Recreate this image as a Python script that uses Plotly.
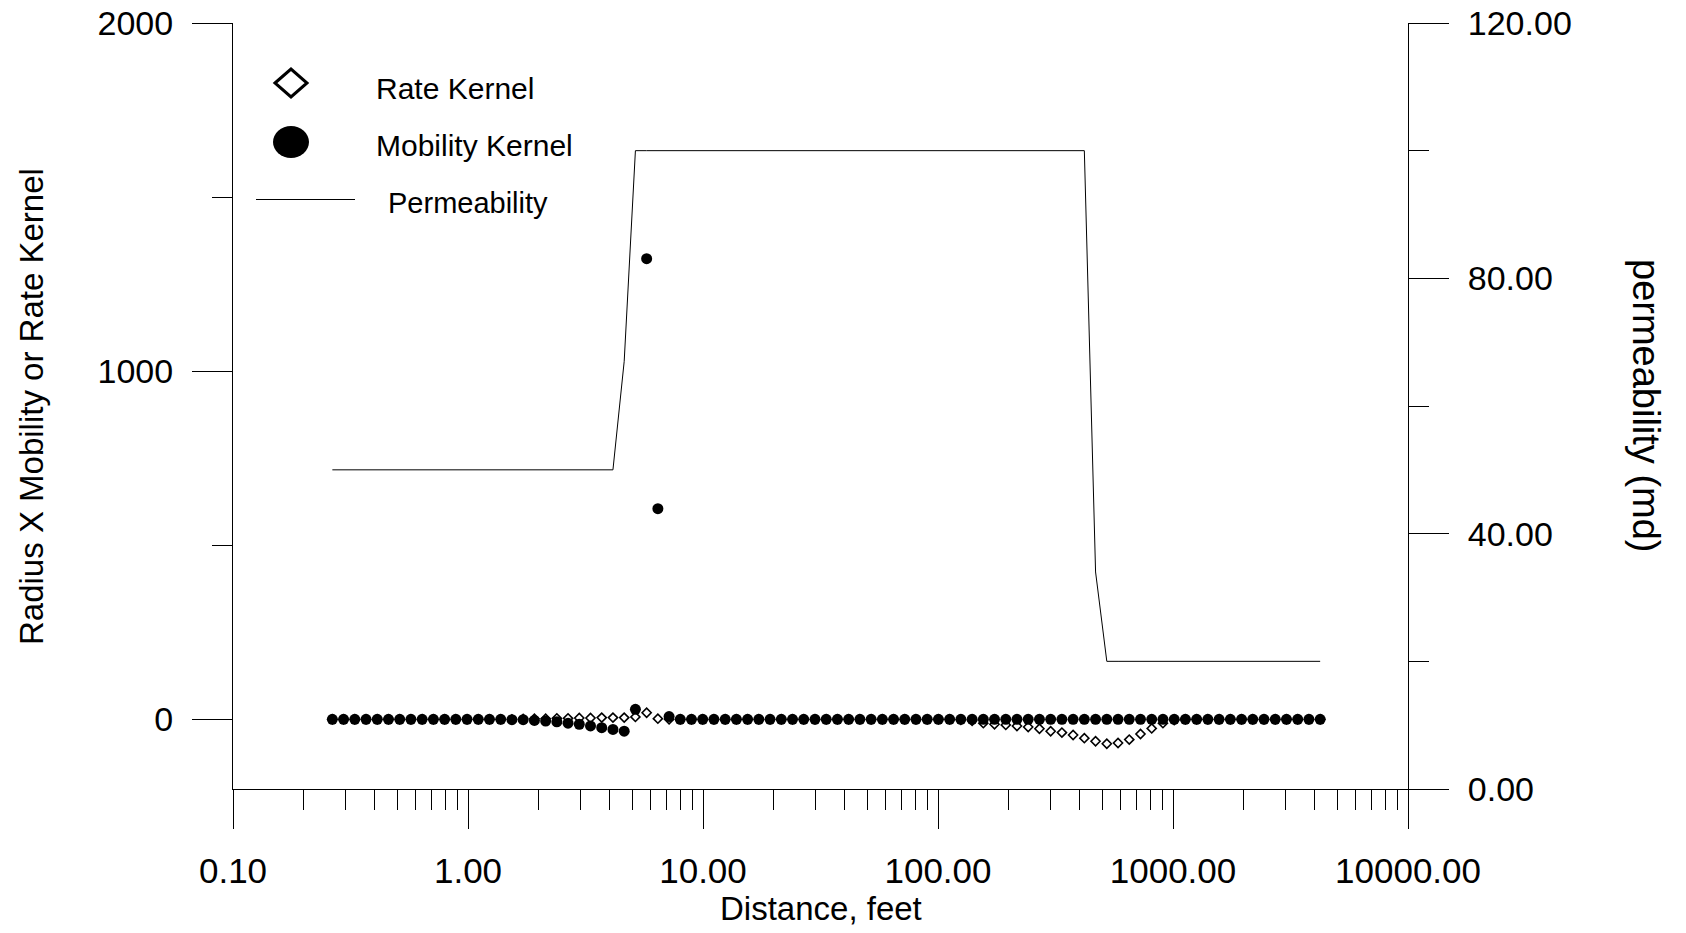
import plotly.graph_objects as go

# ---------------- data ----------------
distance_ft = [
    0.2647, 0.2955, 0.3298, 0.3682, 0.4110, 0.4588, 0.5122, 0.5717, 0.6382, 0.7125,
    0.7953, 0.8874, 0.9906, 1.106, 1.234, 1.378, 1.538, 1.717, 1.917, 2.140,
    2.388, 2.665, 2.975, 3.321, 3.707, 4.138, 4.620, 5.157, 5.757, 6.426,
    7.173, 8.002, 8.932, 9.971, 11.13, 12.43, 13.87, 15.48, 17.28, 19.29,
    21.54, 24.04, 26.83, 29.96, 33.44, 37.33, 41.67, 46.52, 51.93, 57.97,
    64.70, 72.19, 80.58, 89.95, 100.4, 112.1, 125.1, 139.7, 155.9, 174.0,
    194.3, 216.8, 242.0, 270.2, 301.6, 336.7, 375.8, 419.5, 468.3, 522.8,
    583.6, 651.4, 727.2, 811.8, 906.2, 1012, 1129, 1261, 1407, 1571,
    1754, 1958, 2185, 2439, 2723, 3040, 3393, 3788, 4229,
]

rate_kernel = [
    0, 0, 0, 0, 0, 0, 0, 0, 0, 0,
    0, 0, 0, 0, 0, 0, 0, 1, 2, 2,
    3, 3, 4, 4, 5, 5, 5, 7, 19, 2,
    0, 0, 0, 0, 0, 0, 0, 0, 0, 0,
    0, 0, 0, 0, 0, 0, 0, 0, 0, 0,
    0, 0, 0, 0, 0, 0, -1, -4, -11, -14,
    -16, -19, -22, -27, -34, -38, -45, -54, -63, -70,
    -68, -58, -42, -26, -11, -2, 0, 0, 0, 0,
    0, 0, 0, 0, 0, 0, 0, 0, 0,
]

mobility_kernel = [
    0, 0, 0, 0, 0, 0, 0, 0, 0, 0,
    0, 0, 0, 0, 0, 0, -1, -1, -3, -5,
    -7, -11, -14, -19, -24, -29, -34, 29, 1323, 605,
    8, 0, 0, 0, 0, 0, 0, 0, 0, 0,
    0, 0, 0, 0, 0, 0, 0, 0, 0, 0,
    0, 0, 0, 0, 0, 0, 0, 0, 0, 0,
    0, 0, 0, 0, 0, 0, 0, 0, 0, 0,
    0, 0, 0, 0, 0, 0, 0, 0, 0, 0,
    0, 0, 0, 0, 0, 0, 0, 0, 0,
]

permeability_md = [
    50, 50, 50, 50, 50, 50, 50, 50, 50, 50,
    50, 50, 50, 50, 50, 50, 50, 50, 50, 50,
    50, 50, 50, 50, 50, 50, 67, 100, 100, 100,
    100, 100, 100, 100, 100, 100, 100, 100, 100, 100,
    100, 100, 100, 100, 100, 100, 100, 100, 100, 100,
    100, 100, 100, 100, 100, 100, 100, 100, 100, 100,
    100, 100, 100, 100, 100, 100, 100, 100, 34, 20,
    20, 20, 20, 20, 20, 20, 20, 20, 20, 20,
    20, 20, 20, 20, 20, 20, 20, 20, 20,
]

x_tickvals = [0.1, 1, 10, 100, 1000, 10000]
x_ticktext = ["0.10", "1.00", "10.00", "100.00", "1000.00", "10000.00"]
y_tickvals = [0, 1000, 2000]
y_ticktext = ["0", "1000", "2000"]
y2_tickvals = [0, 40, 80, 120]
y2_ticktext = ["0.00", "40.00", "80.00", "120.00"]

legend_labels = ["Rate Kernel", "Mobility Kernel", "Permeability"]

# ---------------- layout geometry ----------------
W, H = 1686, 933
ML, MR, MT, MB = 233, 278, 23, 144
PW, PH = W - ML - MR, H - MT - MB


def px(x):
    return (x - ML) / PW


def py(y):
    return (H - MB - y) / PH


REG = "Liberation Sans, Arial, sans-serif"

fig = go.Figure()

fig.add_trace(go.Scatter(
    x=distance_ft, y=rate_kernel, mode="markers", name=legend_labels[0],
    marker=dict(symbol="diamond-open", size=7, color="black",
                line=dict(color="black", width=1.6)),
    showlegend=False,
))
fig.add_trace(go.Scatter(
    x=distance_ft, y=mobility_kernel, mode="markers", name=legend_labels[1],
    marker=dict(symbol="circle", size=11, color="black", line=dict(width=0)),
    showlegend=False,
))
fig.add_trace(go.Scatter(
    x=distance_ft, y=permeability_md, mode="lines", name=legend_labels[2],
    line=dict(color="black", width=1), yaxis="y2",
    showlegend=False,
))

minor_x = [k * 10.0 ** e for e in range(-1, 4) for k in range(2, 10)]

fig.update_layout(
    template="none",
    width=W, height=H,
    margin=dict(l=ML, r=MR, t=MT, b=MB, pad=0, autoexpand=False),
    paper_bgcolor="white", plot_bgcolor="white",
    showlegend=False,
    xaxis=dict(
        type="log", range=[-1, 4], automargin=False,
        showgrid=False, zeroline=False,
        showline=True, linecolor="black", linewidth=1,
        ticks="outside", ticklen=39, tickwidth=1, tickcolor="black",
        tickmode="array", tickvals=x_tickvals, ticktext=x_ticktext,
        tickfont=dict(family=REG, size=35, color="black"),
        ticklabelstandoff=12,
        minor=dict(tickmode="array", tickvals=minor_x, ticks="outside",
                   ticklen=20, tickwidth=1, tickcolor="black", showgrid=False),
    ),
    yaxis=dict(
        range=[-200, 2000], automargin=False,
        showgrid=False, zeroline=False,
        showline=True, linecolor="black", linewidth=1,
        ticks="outside", ticklen=40, tickwidth=1, tickcolor="black",
        tickmode="array", tickvals=y_tickvals, ticktext=y_ticktext,
        tickfont=dict(family=REG, size=34, color="black"),
        ticklabelstandoff=12,
        minor=dict(tickmode="array", tickvals=[500, 1500], ticks="outside",
                   ticklen=20, tickwidth=1, tickcolor="black", showgrid=False),
    ),
    yaxis2=dict(
        range=[0, 120], overlaying="y", side="right", anchor="x", automargin=False,
        showgrid=False, zeroline=False,
        showline=True, linecolor="black", linewidth=1,
        ticks="outside", ticklen=40, tickwidth=1, tickcolor="black",
        tickmode="array", tickvals=y2_tickvals, ticktext=y2_ticktext,
        tickfont=dict(family=REG, size=34, color="black"),
        ticklabelstandoff=12,
        minor=dict(tickmode="array", tickvals=[20, 60, 100], ticks="outside",
                   ticklen=20, tickwidth=1, tickcolor="black", showgrid=False),
    ),
)

# axis titles
fig.add_annotation(text="Distance, feet", xref="paper", yref="paper",
                   x=px(821), y=py(908), xanchor="center", yanchor="middle",
                   showarrow=False, font=dict(family=REG, size=33, color="black"))
fig.add_annotation(text="Radius X Mobility or Rate Kernel", xref="paper", yref="paper",
                   x=px(31), y=py(407), xanchor="center", yanchor="middle", textangle=-90,
                   showarrow=False, font=dict(family=REG, size=33, color="black"))
fig.add_annotation(text="permeability (md)", xref="paper", yref="paper",
                   x=px(1646), y=py(406), xanchor="center", yanchor="middle", textangle=90,
                   showarrow=False, font=dict(family=REG, size=38, color="black"))

# custom legend
cx, dy_r, dy_m, dy_p = 291, 83, 142, 199.5
fig.add_shape(type="path", xref="paper", yref="paper",
              path=f"M {px(cx-16)},{py(dy_r)} L {px(cx)},{py(dy_r-14)} L {px(cx+16)},{py(dy_r)} L {px(cx)},{py(dy_r+14)} Z",
              line=dict(color="black", width=3), fillcolor="white")
fig.add_shape(type="circle", xref="paper", yref="paper",
              x0=px(cx-18), x1=px(cx+18), y0=py(dy_m+16), y1=py(dy_m-16),
              line=dict(color="black", width=0), fillcolor="black")
fig.add_shape(type="line", xref="paper", yref="paper",
              x0=px(256), x1=px(355), y0=py(dy_p), y1=py(dy_p),
              line=dict(color="black", width=1))
for label, lx, ly, fs in zip(legend_labels, [374, 374, 386], [89, 145, 203], [30, 30, 29]):
    fig.add_annotation(text=label, xref="paper", yref="paper",
                       x=px(lx), y=py(ly), xanchor="left", yanchor="middle",
                       showarrow=False, font=dict(family=REG, size=fs, color="black"))

fig.write_html("out.html")
